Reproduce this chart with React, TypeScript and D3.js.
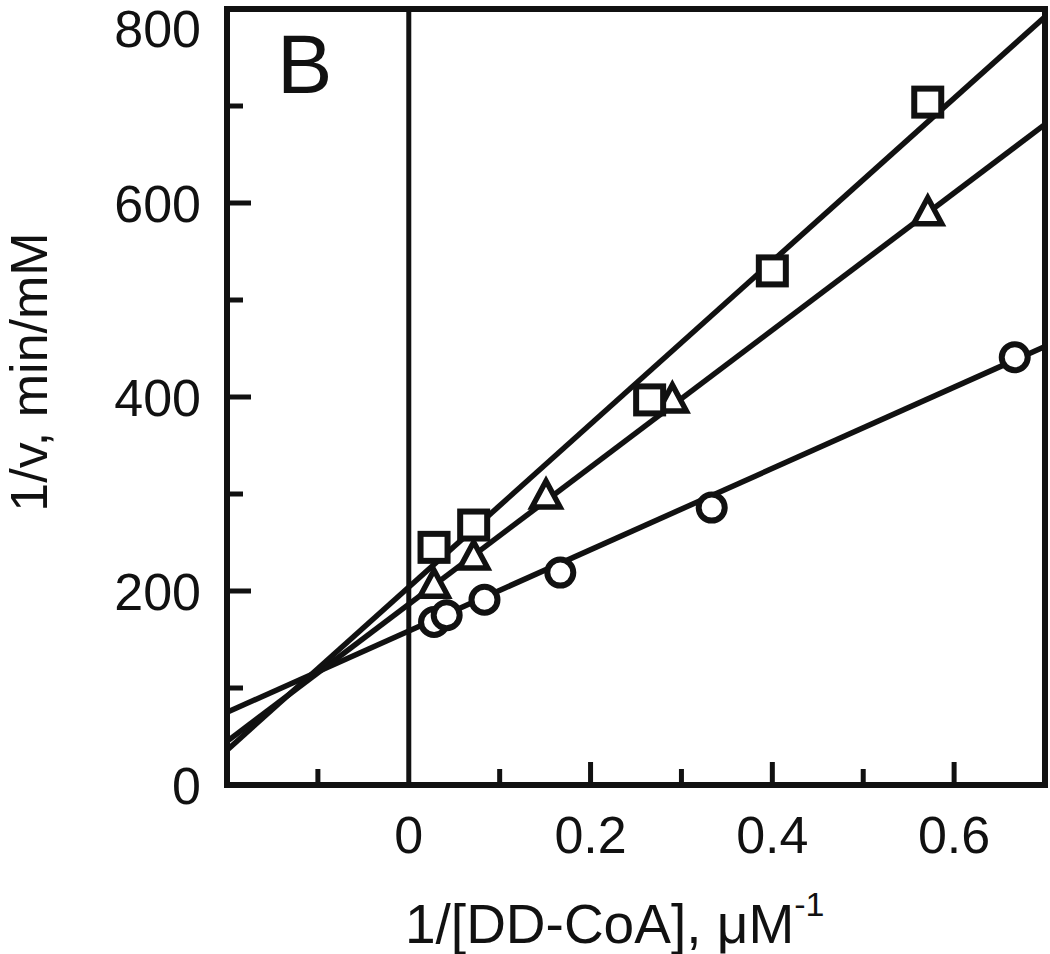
import React from "react";
import * as d3 from "d3";

// ---- data ----
const circleX = [0.0278, 0.0417, 0.0833, 0.1667, 0.3333, 0.6667];
const circleY = [168, 175, 191, 219, 286, 441];
const triangleX = [0.0278, 0.0714, 0.151, 0.29, 0.571];
const triangleY = [206, 235, 298, 397, 590];
const squareX = [0.0278, 0.0714, 0.265, 0.4, 0.571];
const squareY = [245, 268, 397, 530, 704];

// fitted lines (values at the left and right edges of the plot)
const fitX = [-0.2, 0.7];
const circleFit = [75, 452];
const triangleFit = [45, 681];
const squareFit = [36, 792];

const xMajorTicks = [0, 0.2, 0.4, 0.6];
const xMinorTicks = [-0.1, 0.1, 0.3, 0.5];
const yMajorTicks = [0, 200, 400, 600, 800];
const yMinorTicks = [100, 300, 500, 700];

const panelLabel = "B";
const xTitle = "1/[DD-CoA], μM";
const xTitleSup = "-1";
const yTitle = "1/v, min/mM";

export default function App() {
  const W = 1050, H = 954;
  const x = d3.scaleLinear().domain([-0.2, 0.7]).range([227, 1045]);
  const y = d3.scaleLinear().domain([0, 800]).range([785, 9]);
  const font = "'Liberation Sans', Arial, sans-serif";
  const line = d3.line<[number, number]>().x(d => x(d[0])).y(d => y(d[1]));
  const fits = [circleFit, triangleFit, squareFit];
  const tri = (cx: number, cy: number) => {
    const w = 28, h = 26;
    return `M${cx - w / 2},${cy + h / 2 - 2}L${cx},${cy - h / 2 - 2}L${cx + w / 2},${cy + h / 2 - 2}Z`;
  };
  const fmt = (v: number) => (v === 0 ? "0" : d3.format(".1f")(v));
  return (
    <svg width={W} height={H} style={{ position: "absolute", left: 0, top: 0, background: "#fff" }} fontFamily={font}>
      <defs>
        <clipPath id="plot">
          <rect x={227} y={9} width={1045 - 227} height={785 - 9} />
        </clipPath>
      </defs>
      {/* zero line */}
      <line x1={x(0)} x2={x(0)} y1={y(800)} y2={y(0)} stroke="#111" strokeWidth={5} />
      {/* fitted lines */}
      <g clipPath="url(#plot)">
        {fits.map((f, i) => (
          <path key={i} d={line([[fitX[0], f[0]], [fitX[1], f[1]]]) || ""} stroke="#111" strokeWidth={5.5} fill="none" />
        ))}
      </g>
      {/* ticks */}
      {xMajorTicks.filter(t => t !== 0).map(t => (
        <line key={"xM" + t} x1={x(t)} x2={x(t)} y1={y(0)} y2={y(0) - 23} stroke="#111" strokeWidth={5} />
      ))}
      {xMinorTicks.map(t => (
        <line key={"xm" + t} x1={x(t)} x2={x(t)} y1={y(0)} y2={y(0) - 16} stroke="#111" strokeWidth={5} />
      ))}
      {yMajorTicks.filter(t => t !== 0 && t !== 800).map(t => (
        <line key={"yM" + t} x1={x(-0.2)} x2={x(-0.2) + 24} y1={y(t)} y2={y(t)} stroke="#111" strokeWidth={5} />
      ))}
      {yMinorTicks.map(t => (
        <line key={"ym" + t} x1={x(-0.2)} x2={x(-0.2) + 16} y1={y(t)} y2={y(t)} stroke="#111" strokeWidth={5} />
      ))}
      {/* frame */}
      <rect x={227} y={9} width={1045 - 227} height={785 - 9} fill="none" stroke="#111" strokeWidth={6} />
      {/* markers */}
      {circleX.map((v, i) => (
        <circle key={"c" + i} cx={x(v)} cy={y(circleY[i])} r={13} fill="#fff" stroke="#111" strokeWidth={6} />
      ))}
      {triangleX.map((v, i) => (
        <path key={"t" + i} d={tri(x(v), y(triangleY[i]))} fill="#fff" stroke="#111" strokeWidth={5.5} strokeLinejoin="miter" />
      ))}
      {squareX.map((v, i) => (
        <rect key={"s" + i} x={x(v) - 13.5} y={y(squareY[i]) - 13.5} width={27} height={27} fill="#fff" stroke="#111" strokeWidth={6} />
      ))}
      {/* tick labels */}
      {yMajorTicks.map(t => (
        <text key={"yl" + t} x={201} y={Math.max(y(t), 28)} dy="0.36em" textAnchor="end" fontSize={52} fill="#111">{t}</text>
      ))}
      {xMajorTicks.map(t => (
        <text key={"xl" + t} x={x(t)} y={853} textAnchor="middle" fontSize={52} fill="#111">{fmt(t)}</text>
      ))}
      {/* panel label */}
      <text x={277} y={93} fontSize={83} fill="#111">{panelLabel}</text>
      {/* axis titles */}
      <text x={405} y={943} fontSize={55} fill="#111">
        {xTitle}
        <tspan fontSize={34} dy={-27}>{xTitleSup}</tspan>
      </text>
      <text transform="translate(47,372) rotate(-90)" textAnchor="middle" fontSize={52} fill="#111">{yTitle}</text>
    </svg>
  );
}
